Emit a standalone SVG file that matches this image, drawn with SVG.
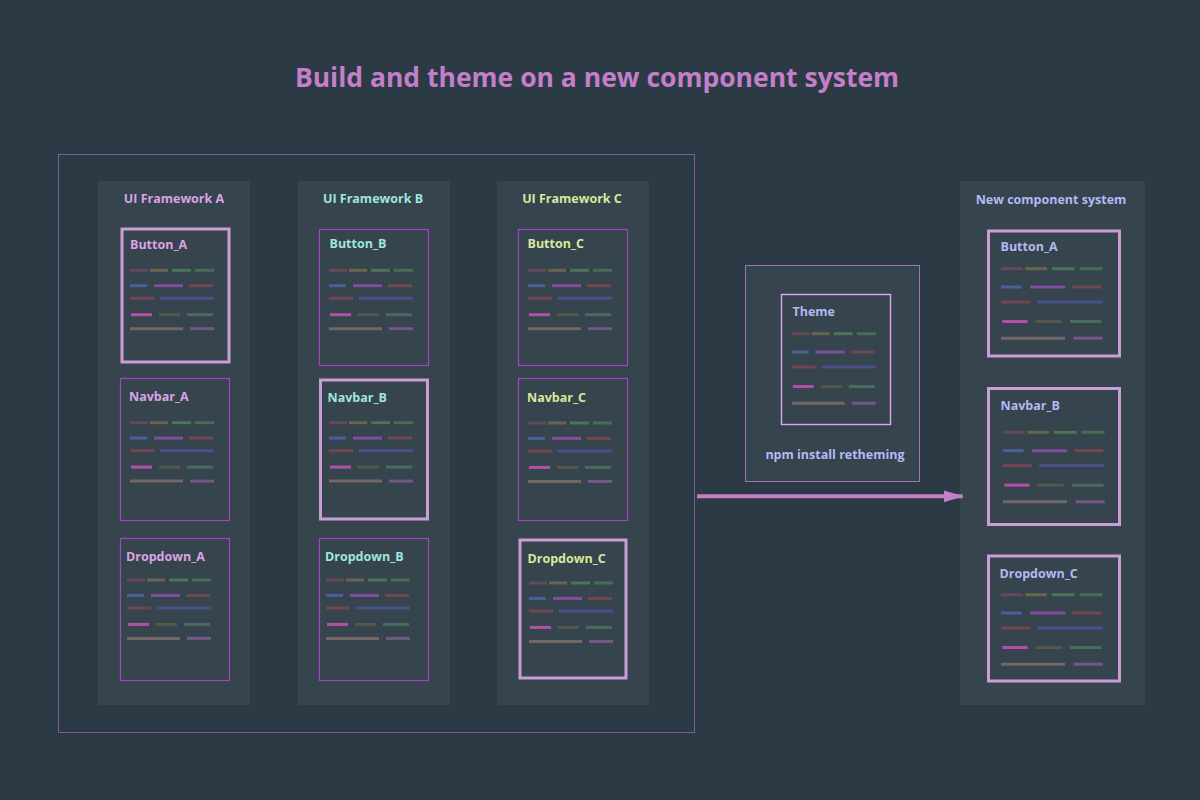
<svg xmlns="http://www.w3.org/2000/svg" xmlns:xlink="http://www.w3.org/1999/xlink" width="1200" height="800" viewBox="0 0 1200 800">
  <style>
    text { font-family: "Open Sans", "Noto Sans", "DejaVu Sans", sans-serif; font-weight: 700; }
    .title { font-size: 26.5px; fill: #c47fc8; }
    .hdr { font-size: 12.5px; text-anchor: middle; }
    .name { font-size: 12.5px; }
    .pa { fill: #d9a3e6; }
    .pb { fill: #9ee6df; }
    .pc { fill: #d9e89c; }
    .pn { fill: #b3b9f2; }
    .panel { fill: #36444e; }
    .card { fill: none; stroke: #a243c6; stroke-width: 1.2; }
    .card-hi { fill: none; stroke: #c99ed8; stroke-width: 3; }
    .card-theme { fill: none; stroke: #e3a6f2; stroke-width: 1.4; }
    .frame { fill: none; stroke: #845a96; stroke-width: 1; }
    .box { fill: #36444e; stroke: #a274b4; stroke-width: 1; }
    .ln { opacity: 0.9; }
    .ln line { stroke-width: 3; vector-effect: non-scaling-stroke; }
    .edge { stroke: #c47fc8; stroke-width: 4; fill: none; }
  </style>
  <defs>
    <!-- placeholder "code" lines drawn inside each component card -->
    <g id="lines" class="ln">
      <line x1="0" y1="0" x2="18" y2="0" stroke="#6b4a58"/>
      <line x1="20" y1="0" x2="38" y2="0" stroke="#6c6a4c"/>
      <line x1="42" y1="0" x2="61" y2="0" stroke="#4f7a58"/>
      <line x1="65" y1="0" x2="84" y2="0" stroke="#4b7258"/>
      <line x1="0" y1="15.4" x2="17" y2="15.4" stroke="#4a66a2"/>
      <line x1="24" y1="15.4" x2="53" y2="15.4" stroke="#8a4ea8"/>
      <line x1="59" y1="15.4" x2="83" y2="15.4" stroke="#7a4852"/>
      <line x1="0" y1="28" x2="24" y2="28" stroke="#7a4552"/>
      <line x1="30" y1="28" x2="84" y2="28" stroke="#4b5290"/>
      <line x1="1" y1="44.4" x2="22" y2="44.4" stroke="#c052b2"/>
      <line x1="29" y1="44.4" x2="50" y2="44.4" stroke="#5b5a4a"/>
      <line x1="57" y1="44.4" x2="83" y2="44.4" stroke="#4a7262"/>
      <line x1="0" y1="58.4" x2="53" y2="58.4" stroke="#7a6a6a"/>
      <line x1="60" y1="58.4" x2="84" y2="58.4" stroke="#7a5a8c"/>
    </g>
    <marker id="arrow" markerUnits="userSpaceOnUse" markerWidth="20" markerHeight="12" refX="19" refY="6" orient="auto">
      <path d="M0,0 L20,6 L0,12 Z" fill="#c47fc8"/>
    </marker>
  </defs>

  <rect width="1200" height="800" fill="#2b3a45"/>

  <text class="title" x="597" y="87" text-anchor="middle">Build and theme on a new component system</text>

  <!-- outer frame around the existing frameworks -->
  <rect id="frameworks" class="frame" x="58.5" y="154.5" width="636" height="578"/>

  <!-- UI Framework A -->
  <g id="framework-a">
    <rect class="panel" x="98" y="181" width="152" height="524"/>
    <text class="hdr pa" x="174" y="203">UI Framework A</text>
  </g>
  <g id="button-a">
    <rect class="card-hi" x="122" y="229" width="107" height="133"/>
    <text class="name pa" x="130" y="249">Button_A</text>
    <use href="#lines" transform="translate(130,270.3)"/>
  </g>
  <g id="navbar-a">
    <rect class="card" x="120.5" y="378.5" width="109" height="142"/>
    <text class="name pa" x="129" y="401">Navbar_A</text>
    <use href="#lines" transform="translate(130,422.7)"/>
  </g>
  <g id="dropdown-a">
    <rect class="card" x="120.5" y="538.5" width="109" height="142"/>
    <text class="name pa" x="126" y="561">Dropdown_A</text>
    <use href="#lines" transform="translate(127,580)"/>
  </g>

  <!-- UI Framework B -->
  <g id="framework-b">
    <rect class="panel" x="298" y="181" width="152" height="524"/>
    <text class="hdr pb" x="373" y="203">UI Framework B</text>
  </g>
  <g id="button-b">
    <rect class="card" x="319.5" y="229.5" width="109" height="136"/>
    <text class="name pb" x="329.5" y="248">Button_B</text>
    <use href="#lines" transform="translate(329,270.3)"/>
  </g>
  <g id="navbar-b">
    <rect class="card-hi" x="320.5" y="380" width="107" height="139"/>
    <text class="name pb" x="327.5" y="402">Navbar_B</text>
    <use href="#lines" transform="translate(329,422.7)"/>
  </g>
  <g id="dropdown-b">
    <rect class="card" x="319.5" y="538.5" width="109" height="142"/>
    <text class="name pb" x="325" y="561">Dropdown_B</text>
    <use href="#lines" transform="translate(326,580)"/>
  </g>

  <!-- UI Framework C -->
  <g id="framework-c">
    <rect class="panel" x="497" y="181" width="152" height="524"/>
    <text class="hdr pc" x="572" y="203">UI Framework C</text>
  </g>
  <g id="button-c">
    <rect class="card" x="518.5" y="229.5" width="109" height="136"/>
    <text class="name pc" x="527.5" y="248">Button_C</text>
    <use href="#lines" transform="translate(528,270.3)"/>
  </g>
  <g id="navbar-c">
    <rect class="card" x="518.5" y="378.5" width="109" height="142"/>
    <text class="name pc" x="527" y="402">Navbar_C</text>
    <use href="#lines" transform="translate(528,423)"/>
  </g>
  <g id="dropdown-c">
    <rect class="card-hi" x="520" y="540" width="106" height="138"/>
    <text class="name pc" x="527.5" y="563">Dropdown_C</text>
    <use href="#lines" transform="translate(529,583)"/>
  </g>

  <!-- retheming package -->
  <g id="retheming">
    <rect class="box" x="745.5" y="265.5" width="174" height="216"/>
    <text class="hdr pn" x="835" y="459">npm install retheming</text>
  </g>
  <g id="theme">
    <rect class="card-theme" x="781.5" y="294.5" width="109" height="130"/>
    <text class="name pn" x="792.5" y="316">Theme</text>
    <use href="#lines" transform="translate(791.7,333.7) scale(1,1.19)"/>
  </g>

  <!-- new component system -->
  <g id="new-system">
    <rect class="panel" x="960" y="181" width="185" height="524"/>
    <text class="hdr pn" x="1051" y="204">New component system</text>
  </g>
  <g id="new-button-a">
    <rect class="card-hi" x="988.5" y="231" width="131" height="125"/>
    <text class="name pn" x="1000.5" y="251">Button_A</text>
    <use href="#lines" transform="translate(1001,268.7) scale(1.21,1.19)"/>
  </g>
  <g id="new-navbar-b">
    <rect class="card-hi" x="988.5" y="388.5" width="131" height="136"/>
    <text class="name pn" x="1000.5" y="410">Navbar_B</text>
    <use href="#lines" transform="translate(1003,432.3) scale(1.21,1.19)"/>
  </g>
  <g id="new-dropdown-c">
    <rect class="card-hi" x="988.5" y="556" width="131" height="125"/>
    <text class="name pn" x="999.5" y="578">Dropdown_C</text>
    <use href="#lines" transform="translate(1001,594.7) scale(1.21,1.19)"/>
  </g>

  <!-- connectors -->
  <g id="connectors">
    <line class="edge" x1="697" y1="496.3" x2="962.7" y2="496.3" marker-end="url(#arrow)"/>
  </g>
</svg>
